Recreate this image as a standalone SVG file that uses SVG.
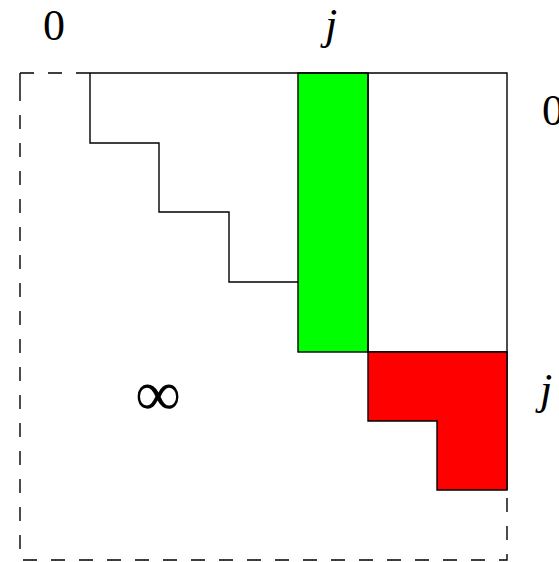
<svg xmlns="http://www.w3.org/2000/svg" width="559" height="562" viewBox="0 0 559 562">
<style>
.s{fill:none;stroke:#000;stroke-width:1.4}
.d{fill:none;stroke:#000;stroke-width:1.4;stroke-dasharray:14 14}
.t{font-family:"Liberation Serif",serif;font-size:44px;fill:#000}
.i{font-style:italic}
</style>
<rect width="559" height="562" fill="#fff"/>
<g id="dashed-frame">
<path class="d" d="M20,73 H90"/>
<path class="d" d="M20,87 V560 H507 V490"/>
<path class="d" d="M20,73 V87"/>
</g>
<g id="green-column">
<rect x="298" y="73" width="70" height="279" fill="#00ff00" stroke="#000" stroke-width="1.4"/>
</g>
<g id="upper-block">
<path class="s" d="M90,73 H507 V490"/>
<path class="s" d="M368,73 V352 H507"/>
</g>
<g id="staircase">
<path class="s" d="M90,73 V143 H159 V212 H229 V282 H298"/>
</g>
<g id="red-region">
<path d="M368,352 H507 V490 H437 V421 H368 Z" fill="#ff0000" stroke="#000" stroke-width="1.4"/>
</g>
<g id="labels">
<text class="t" x="54" y="40" text-anchor="middle">0</text>
<text class="t i" x="331" y="39" text-anchor="middle">j</text>
<text class="t" x="542" y="125">0</text>
<text class="t i" x="540" y="404">j</text>
<text class="t" x="158" y="415" text-anchor="middle" style="font-size:64px">∞</text>
</g>
</svg>
